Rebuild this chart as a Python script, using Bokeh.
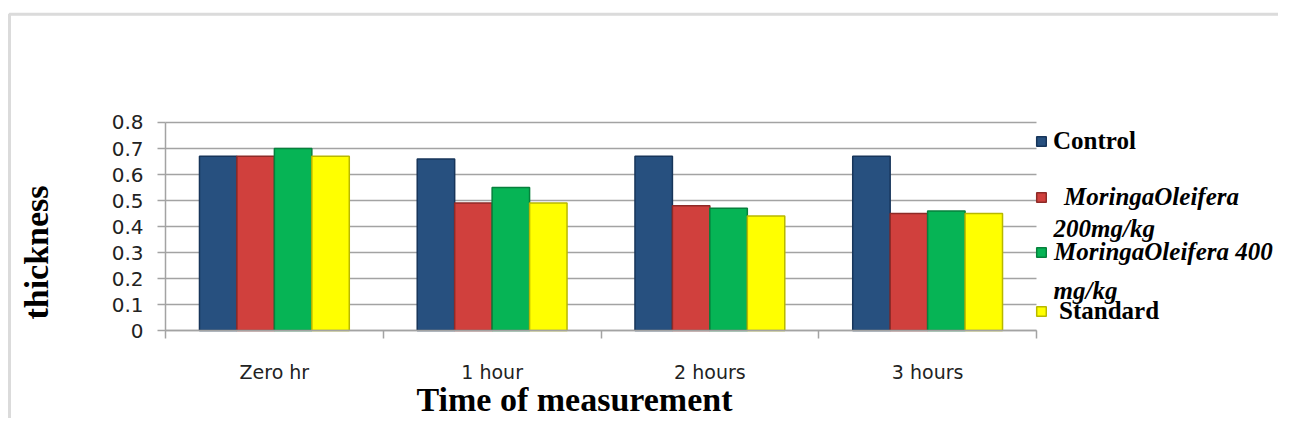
from bokeh.plotting import figure
from bokeh.models import (Range1d, FixedTicker, Label, Legend, LegendItem, LinearAxis,
                          BoxAnnotation)
from bokeh.embed import file_html
from bokeh.resources import INLINE
import numpy as np

categories = ["Zero hr", "1 hour", "2 hours", "3 hours"]
series_names = ["Control", "MoringaOleifera", "MoringaOleifera 400", "Standard"]
series_second_lines = ["", "200mg/kg", "mg/kg", ""]
control = [0.67, 0.66, 0.67, 0.67]
moringa_200 = [0.67, 0.49, 0.48, 0.45]
moringa_400 = [0.70, 0.55, 0.47, 0.46]
standard = [0.67, 0.49, 0.44, 0.45]
y_ticks = [0, 0.1, 0.2, 0.3, 0.4, 0.5, 0.6, 0.7, 0.8]
y_tick_labels = ["0", "0.1", "0.2", "0.3", "0.4", "0.5", "0.6", "0.7", "0.8"]

series = [control, moringa_200, moringa_400, standard]
fills = ["#27507F", "#D0403D", "#06B455", "#FFFF00"]
lines = ["#17355A", "#8E2A27", "#06803C", "#B8B800"]
label_styles = ["bold", "bold italic", "bold italic", "bold"]
standoffs = [6, 17, 7, 12]

W, H = 1278, 418
# plot area (categories 0..4, values 0..0.8) placed inside a canvas-filling frame
x_range = Range1d(-0.7578, 5.1114)
y_range = Range1d(-0.33846, 1.26923)
p = figure(width=W, height=H, output_backend="svg", toolbar_location=None,
           x_range=x_range, y_range=y_range, x_axis_type=None, y_axis_type=None)
p.min_border = 0
p.min_border_left = 0
p.min_border_right = 0
p.min_border_top = 0
p.min_border_bottom = 0
p.outline_line_color = None
p.background_fill_color = "white"
p.border_fill_color = "white"
p.grid.visible = False

grid_color = "#a3a3a3"
ncat = len(categories)
# horizontal gridlines across the category span
p.segment(x0=[0] * len(y_ticks), x1=[ncat] * len(y_ticks), y0=y_ticks, y1=y_ticks,
          line_color=grid_color, line_width=1.5)

yaxis = LinearAxis(fixed_location=0, bounds=(y_ticks[0], y_ticks[-1]))
yaxis.ticker = FixedTicker(ticks=y_ticks)
yaxis.major_label_overrides = {t: l for t, l in zip(y_ticks, y_tick_labels)}
yaxis.axis_line_color = grid_color
yaxis.axis_line_width = 1.5
yaxis.major_tick_line_color = grid_color
yaxis.major_tick_line_width = 1.5
yaxis.major_tick_out = 8
yaxis.major_tick_in = 0
yaxis.minor_tick_line_color = None
yaxis.major_label_standoff = 14
yaxis.major_label_text_font = "DejaVu Sans"
yaxis.major_label_text_font_size = "20px"
yaxis.major_label_text_color = "#222222"
p.add_layout(yaxis, "left")

centers = [i + 0.5 for i in range(ncat)]
xaxis = LinearAxis(fixed_location=0, bounds=(0, ncat))
xaxis.ticker = FixedTicker(ticks=centers, minor_ticks=list(range(ncat + 1)))
xaxis.major_label_overrides = {c: name for c, name in zip(centers, categories)}
xaxis.axis_line_color = grid_color
xaxis.axis_line_width = 1.5
xaxis.major_tick_line_color = None
xaxis.major_tick_out = 0
xaxis.major_tick_in = 0
xaxis.minor_tick_line_color = grid_color
xaxis.minor_tick_line_width = 1.5
xaxis.minor_tick_out = 8
xaxis.minor_tick_in = 0
xaxis.major_label_standoff = 22
xaxis.major_label_text_font = "DejaVu Sans"
xaxis.major_label_text_font_size = "19px"
xaxis.major_label_text_color = "#222222"
p.add_layout(xaxis, "below")

# outer chart border (top and left visible)
p.add_layout(BoxAnnotation(left=9, right=3000, bottom=-100, top=H - 13.7,
                           left_units="screen", right_units="screen",
                           bottom_units="screen", top_units="screen",
                           fill_color=None, fill_alpha=0, line_color="#888888", line_width=3))

bw = 0.172
idx = np.arange(ncat)
legend_centers_px = [141, 197, 252, 311]
second_line_baselines_px = [0, 228, 290, 0]
for j, (vals, name) in enumerate(zip(series, series_names)):
    xs = idx + 0.5 + (j - 1.5) * bw
    r = p.vbar(x=xs, top=vals, bottom=0, width=bw, fill_color=fills[j],
               line_color=lines[j], line_width=1.5)
    leg = Legend(items=[LegendItem(label=name, renderers=[r])],
                 location=(1035, H - legend_centers_px[j] - 15),
                 glyph_width=12, glyph_height=12, label_standoff=standoffs[j],
                 label_height=30, padding=0, margin=0, spacing=0,
                 border_line_color=None, background_fill_alpha=0,
                 label_text_font="Liberation Serif", label_text_font_size="25px",
                 label_text_font_style=label_styles[j], label_text_color="black",
                 label_text_baseline="middle")
    p.add_layout(leg, "center")
    if series_second_lines[j]:
        p.add_layout(Label(x=1053, y=H - second_line_baselines_px[j],
                           x_units="screen", y_units="screen",
                           text=series_second_lines[j], text_font="Liberation Serif",
                           text_font_size="25px", text_font_style="bold italic",
                           text_color="black", text_baseline="alphabetic", text_align="left"))

p.add_layout(Label(x=36, y=H - 252, x_units="screen", y_units="screen", text="thickness",
                   angle=np.pi / 2, text_font="Liberation Serif", text_font_size="34px",
                   text_font_style="bold", text_color="black",
                   text_align="center", text_baseline="middle"))
p.add_layout(Label(x=574, y=H - 399, x_units="screen", y_units="screen",
                   text="Time of measurement",
                   text_font="Liberation Serif", text_font_size="34px",
                   text_font_style="bold", text_color="black",
                   text_align="center", text_baseline="middle"))

open("out.html", "w").write(file_html(p, INLINE))
